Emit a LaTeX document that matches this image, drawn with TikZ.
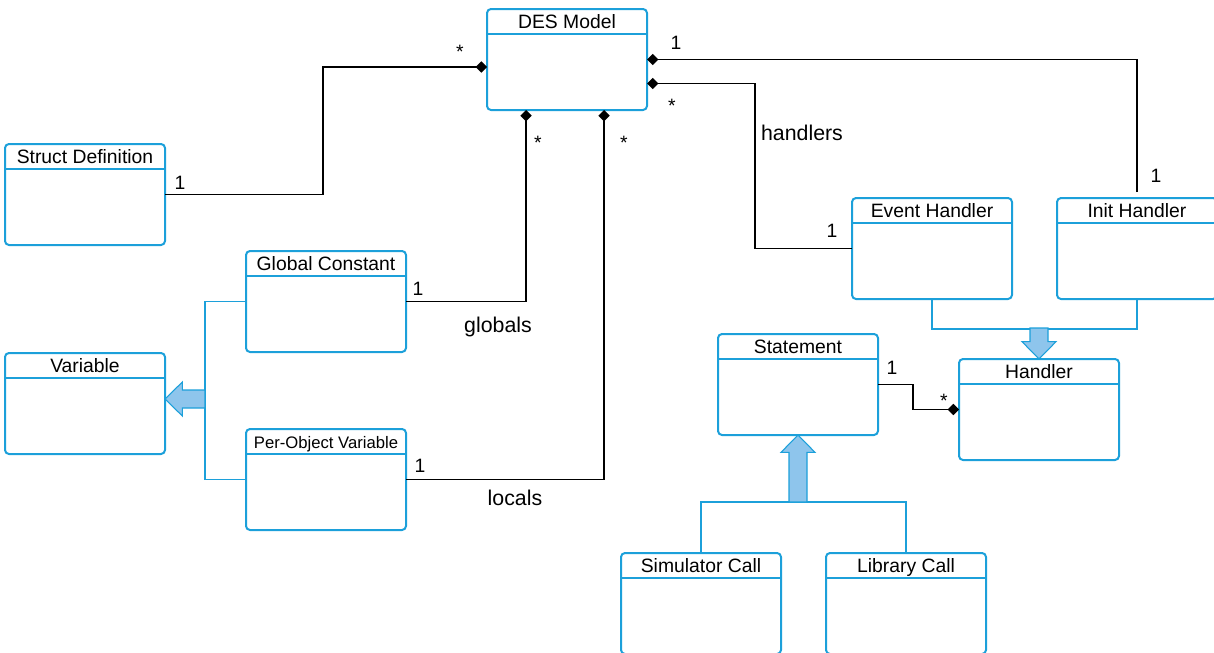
\documentclass[tikz,border=0pt]{standalone}
\usepackage{fontspec}
\setmainfont{Liberation Sans}
\usetikzlibrary{arrows.meta,calc}

\definecolor{classblue}{RGB}{28,160,218}
\definecolor{arrowblue}{RGB}{142,197,236}

% class box with a title band: name, top left corner (x, y), title
\newcommand{\classnode}[4]{%
  \node (#1) [umlbox, anchor=north west] at (#2,#3) {};
  \draw [genline] ($(#1.north west)+(0,25)$) -- ($(#1.north east)+(0,25)$);
  \node (#1-title) [classtitle, anchor=base] at ($(#1.north)+(0,19)$) {#4};
}

\tikzset{
  pics/genarrow/.style={code={
    \filldraw [draw=classblue, fill=arrowblue, line width=0.8pt, line join=miter]
      (0,0) -- (-13pt,12.75pt) -- (-13pt,6.75pt) -- (-#1,6.75pt)
      -- (-#1,-6.75pt) -- (-13pt,-6.75pt) -- (-13pt,-12.75pt) -- cycle;
  }}
}

\begin{document}
\begin{tikzpicture}[
		x=0.75pt, y=-0.75pt,
		umlbox/.style={draw=classblue, line width=1.5pt, rounded corners=3pt, fill=white,
			minimum width=120pt, minimum height=75.75pt, inner sep=0pt, outer sep=0pt},
		classtitle/.style={inner sep=0pt, font=\fontsize{14.5}{17}\selectfont},
		genline/.style={draw=classblue, line width=1.2pt},
		assoc/.style={draw=black, line width=1.2pt, -{Diamond[length=8.5pt, width=8.5pt]}},
		mult/.style={inner sep=0pt, font=\fontsize{14.5}{17}\selectfont},
		role/.style={inner sep=0pt, font=\fontsize{16}{19}\selectfont}
	]
  \useasboundingbox (0,0) rectangle (1214,653);

  % classes
  \classnode{des}{487}{9}{DES Model}
  \classnode{struct}{5}{144}{Struct Definition}
  \classnode{global}{246}{251}{Global Constant}
  \classnode{variable}{5}{353}{Variable}
  \classnode{perobj}{246}{429}{\fontsize{12.5}{15}\selectfont Per-Object Variable}
  \classnode{event}{852}{198}{Event Handler}
  \classnode{init}{1057}{198}{Init Handler}
  \classnode{stmt}{718}{334}{Statement}
  \classnode{handler}{959}{359}{Handler}
  \classnode{sim}{621}{553}{Simulator Call}
  \classnode{lib}{826}{553}{Library Call}

  % compositions
  \draw [assoc] (struct.east) -- ++(158,0) |- ($(des.west)+(0,7.5)$);
  \draw [assoc, shorten <=4.5pt] (init.north) |- (des.east);
  \draw [assoc] (event.west) -- ++(-97,0) |- ($(des.east)+(0,24)$);
  \draw [assoc] (global.east) -| ($(des.south)+(-41,0)$);
  \draw [assoc] (perobj.east) -| ($(des.south)+(37,0)$);
  \draw [assoc] (stmt.east) -- ++(35,0) |- (handler.west);

  % multiplicities and roles
  \node (m-struct) [mult] at (180,183) {1};
  \node (s-struct) [mult] at (460,52) {*};
  \node (m-des) [mult] at (676,43) {1};
  \node (m-init) [mult] at (1156,176) {1};
  \node (s-event) [mult] at (672,106) {*};
  \node (handlers) [role] at (802,133) {handlers};
  \node (m-event) [mult] at (832,231) {1};
  \node (s-global) [mult] at (538,143) {*};
  \node (m-global) [mult] at (418,289) {1};
  \node (globals) [role] at (498,327) {globals};
  \node (s-perobj) [mult] at (624,143) {*};
  \node (m-perobj) [mult] at (420,466) {1};
  \node (locals) [role] at (515,498) {locals};
  \node (m-stmt) [mult] at (892,368) {1};
  \node (s-stmt) [mult] at (944,401) {*};

  % generalisations
  \draw [genline] (global.west) -- ++(-41,0) |- (perobj.west);
  \pic [rotate=180] at ($(variable.east)+(0,-4.5)$) {genarrow=30pt};
  \draw [genline] (event.south) -- ++(0,30) -| (init.south);
  \pic [rotate=-90] at (handler.north) {genarrow=23.25pt};
  \draw [genline] (sim.north) -- ++(0,-51) -| (lib.north);
  \pic [rotate=90] at (stmt.south) {genarrow=50.25pt};
\end{tikzpicture}
\end{document}
